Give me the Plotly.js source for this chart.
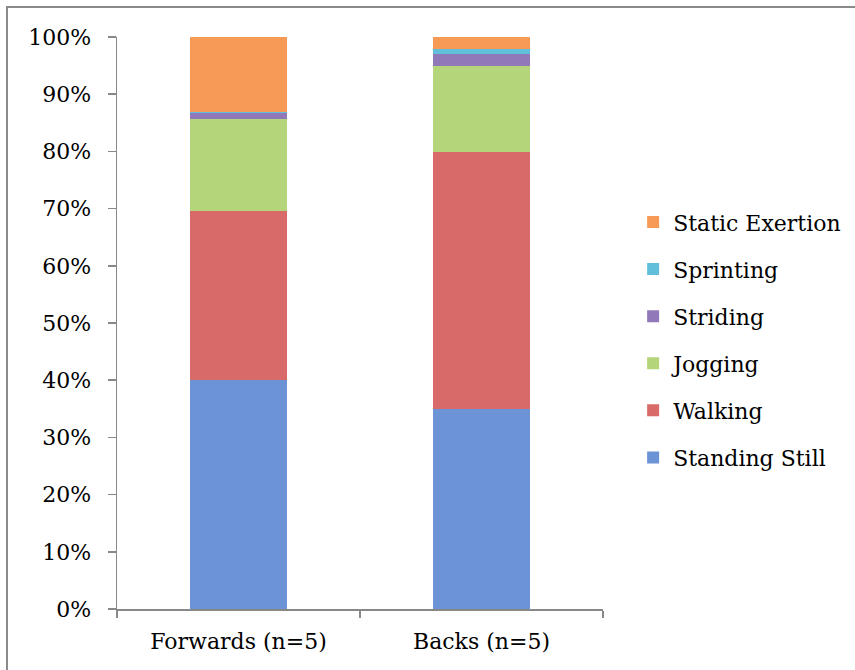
<!DOCTYPE html>
<html>
<head>
<meta charset="utf-8">
<script src="https://cdn.plot.ly/plotly-3.0.1.min.js"></script>
<style>html,body{margin:0;padding:0;background:#fff;}#chart{width:855px;height:670px;}</style>
</head>
<body>
<div id="chart"></div>
<script>
const categories = ["Forwards (n=5)", "Backs (n=5)"];
const standingStill = [40.1, 34.9];
const walking = [29.4, 45.0];
const jogging = [16.1, 15.0];
const striding = [1.2, 2.1];
const sprinting = [0.15, 0.9];
const staticExertion = [13.05, 2.1];
const seriesNames = ["Standing Still", "Walking", "Jogging", "Striding", "Sprinting", "Static Exertion"];
const seriesValues = [standingStill, walking, jogging, striding, sprinting, staticExertion];
const seriesColors = ["#6b93d6", "#d86a69", "#b4d57a", "#9179b9", "#62bfdc", "#f69a55"];

const FONT = "DejaVu Serif, serif";
const traces = seriesNames.map((name, i) => ({
  type: "bar",
  name: name,
  x: categories,
  y: seriesValues[i],
  legendgroup: "g" + i,
  legendrank: 1000 - i,
  marker: {color: seriesColors[i], line: {width: 0}},
  hoverinfo: "skip"
}));

const layout = {
  width: 855, height: 670,
  margin: {l: 117, r: 252, t: 37, b: 61, autoexpand: false},
  barmode: "stack",
  bargap: 0.6,
  paper_bgcolor: "#fff",
  plot_bgcolor: "#fff",
  font: {family: FONT, size: 22, color: "#000"},
  showlegend: true,
  legend: {
    x: 1.062, xanchor: "left", y: 0.713, yanchor: "top",
    traceorder: "grouped",
    tracegroupgap: 15.5,
    font: {family: FONT, size: 22, color: "#000"}
  },
  xaxis: {
    type: "category",
    showline: true, linecolor: "#888", linewidth: 1.5,
    ticks: "outside", ticklen: 7, tickcolor: "#888", tickwidth: 1.5,
    tickson: "boundaries",
    ticklabelstandoff: 12,
    showgrid: false, zeroline: false,
    tickfont: {family: FONT, size: 22}
  },
  yaxis: {
    range: [0, 100],
    tickvals: [0,10,20,30,40,50,60,70,80,90,100],
    ticktext: ["0%","10%","20%","30%","40%","50%","60%","70%","80%","90%","100%"],
    showline: true, linecolor: "#888", linewidth: 1.5,
    ticks: "outside", ticklen: 8, tickcolor: "#888", tickwidth: 1.5,
    ticklabelstandoff: 12,
    showgrid: false, zeroline: false,
    tickfont: {family: FONT, size: 22}
  },
  shapes: [{
    type: "rect", xref: "paper", yref: "paper",
    x0: (7 - 117) / 486, x1: (870 - 117) / 486,
    y0: (609 - 690) / 572, y1: (609 - 7) / 572,
    line: {color: "#8a8a8a", width: 2}, fillcolor: "rgba(0,0,0,0)", layer: "below"
  }]
};

Plotly.newPlot("chart", traces, layout, {displayModeBar: false, staticPlot: true});
</script>
</body>
</html>
